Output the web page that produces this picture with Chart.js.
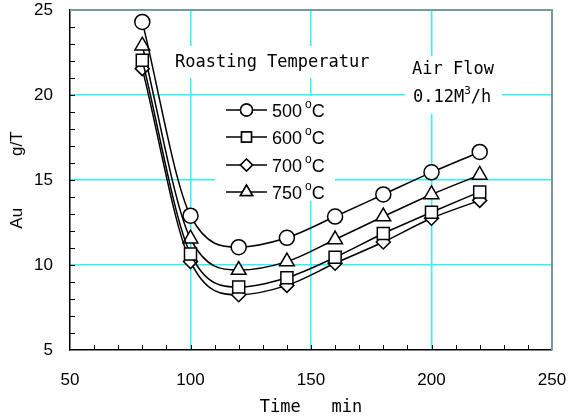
<!DOCTYPE html>
<html>
<head>
<meta charset="utf-8">
<script src="https://cdn.jsdelivr.net/npm/chart.js@4.4.0/dist/chart.umd.min.js"></script>
<style>
  html, body { margin: 0; padding: 0; background: #fff; }
</style>
</head>
<body>
<canvas id="auChart" width="569" height="420"></canvas>
<script>
// roasting time (min) and Au content (g/T) for each roasting temperature
const times = [80, 100, 120, 140, 160, 180, 200, 220];
const temps = ["500", "600", "700", "750"];
const au500 = [24.3, 12.9, 11.05, 11.6, 12.85, 14.15, 15.45, 16.65];
const au600 = [22.05, 10.65, 8.7, 9.25, 10.45, 11.85, 13.1, 14.3];
const au700 = [21.55, 10.2, 8.25, 8.8, 10.1, 11.35, 12.75, 13.8];
const au750 = [22.9, 11.55, 9.7, 10.2, 11.5, 12.85, 14.15, 15.3];
const xTicks = [50, 100, 150, 200, 250];
const yTicks = [5, 10, 15, 20, 25];

const series = [au500, au600, au700, au750];
const markers = [
  { style: "circle", r: 7.5, legendR: 6 },
  { style: "rect", r: 8.5, legendR: 7 },
  { style: "rectRot", r: 7, legendR: 6 },
  { style: "triangle", r: 8.5, legendR: 7 }
];
const CYAN = "#30f2f2";
const FRAME = "#7a9a9a";

const datasets = temps.map((t, i) => ({
  label: t + " °C",
  data: times.map((tm, j) => ({ x: tm, y: series[i][j] })),
  borderColor: "#000",
  borderWidth: 1.5,
  cubicInterpolationMode: "monotone",
  pointStyle: markers[i].style,
  pointRadius: markers[i].r,
  pointBackgroundColor: "#fff",
  pointBorderColor: "#000",
  pointBorderWidth: 1.5
}));

function gridColor(list) {
  return c => (c.tick && c.tick.value > list[0] && c.tick.value < list[list.length - 1]) ? CYAN : "rgba(0,0,0,0)";
}

// frame, inward minor ticks, text boxes and the legend drawn inside the plot
const decorations = {
  id: "decorations",
  beforeDatasetsDraw(chart) {
    const { ctx, chartArea: a, scales: { x, y } } = chart;
    ctx.save();

    // top and right frame
    ctx.strokeStyle = FRAME;
    ctx.lineWidth = 2;
    ctx.beginPath();
    ctx.moveTo(a.left, a.top);
    ctx.lineTo(a.right, a.top);
    ctx.lineTo(a.right, a.bottom);
    ctx.stroke();

    // ticks pointing into the plot
    ctx.strokeStyle = "#000";
    ctx.lineWidth = 1;
    ctx.beginPath();
    for (let v = xTicks[0] + 10; v < xTicks[xTicks.length - 1]; v += 10) {
      const px = Math.round(x.getPixelForValue(v)) + 0.5;
      ctx.moveTo(px, a.bottom);
      ctx.lineTo(px, a.bottom - 5);
    }
    for (let v = yTicks[0] + 1; v < yTicks[yTicks.length - 1]; v += 1) {
      const py = Math.round(y.getPixelForValue(v)) + 0.5;
      ctx.moveTo(a.left, py);
      ctx.lineTo(a.left + 5, py);
    }
    ctx.stroke();

    // white boxes behind the texts
    ctx.fillStyle = "#fff";
    ctx.fillRect(a.left + 100, a.top + 36, 205, 32);
    ctx.fillRect(a.left + 145, a.top + 86, 120, 105);
    ctx.fillRect(a.left + 335, a.top + 46, 97, 58);

    ctx.fillStyle = "#000";
    ctx.textBaseline = "middle";
    ctx.font = "17px 'DejaVu Sans Mono'";
    ctx.fillText("Roasting Temperatur", a.left + 105, a.top + 53);
    ctx.fillText("Air Flow", a.left + 342, a.top + 60);
    let tx = a.left + 343;
    const ty = a.top + 88;
    ctx.fillText("0.12M", tx, ty);
    tx += ctx.measureText("0.12M").width;
    ctx.font = "11px 'DejaVu Sans Mono'";
    ctx.fillText("3", tx, ty - 7);
    tx += ctx.measureText("3").width;
    ctx.font = "17px 'DejaVu Sans Mono'";
    ctx.fillText("/h", tx, ty);

    // legend rows
    const rowY = [100, 127, 155, 182];
    chart.data.datasets.forEach((ds, i) => {
      const ly = a.top + rowY[i];
      const lx = a.left + 156;
      ctx.strokeStyle = "#000";
      ctx.lineWidth = 1.5;
      ctx.beginPath();
      ctx.moveTo(lx, ly);
      ctx.lineTo(lx + 41, ly);
      ctx.stroke();
      ctx.fillStyle = "#fff";
      Chart.helpers.drawPoint(ctx, {
        pointStyle: ds.pointStyle, radius: markers[i].legendR, rotation: 0, borderWidth: 1.5
      }, lx + 20.5, ly);
      ctx.fill();
      ctx.stroke();

      ctx.fillStyle = "#000";
      ctx.textBaseline = "alphabetic";
      let sx = lx + 46;
      ctx.font = "18px 'Liberation Sans'";
      ctx.fillText(temps[i], sx, ly + 7);
      sx += ctx.measureText(temps[i]).width + 3;
      ctx.font = "12px 'Liberation Sans'";
      ctx.fillText("o", sx, ly - 2);
      sx += ctx.measureText("o").width;
      ctx.font = "18px 'Liberation Sans'";
      ctx.fillText("C", sx, ly + 7);
    });
    ctx.restore();
  }
};

new Chart(document.getElementById("auChart"), {
  type: "line",
  data: { datasets: datasets },
  plugins: [decorations],
  options: {
    responsive: false,
    animation: false,
    devicePixelRatio: 1,
    layout: { padding: 0 },
    plugins: { legend: { display: false }, tooltip: { enabled: false } },
    scales: {
      x: {
        type: "linear",
        min: xTicks[0],
        max: xTicks[xTicks.length - 1],
        afterBuildTicks: s => { s.ticks = xTicks.map(v => ({ value: v })); },
        afterFit: s => { s.height = 70; s.paddingRight = 17; s.paddingLeft = 0; },
        grid: { color: gridColor(xTicks), drawTicks: false, lineWidth: 1.5 },
        border: { display: true, color: "#000", width: 1.5 },
        ticks: { color: "#000", padding: 20, maxRotation: 0, font: { family: "Liberation Sans", size: 17 } },
        title: {
          display: true, text: "Time   min", color: "#000",
          padding: { top: 0, bottom: 2 },
          font: { family: "DejaVu Sans Mono", size: 17 }
        }
      },
      y: {
        type: "linear",
        min: yTicks[0],
        max: yTicks[yTicks.length - 1],
        afterBuildTicks: s => { s.ticks = yTicks.map(v => ({ value: v })); },
        afterFit: s => { s.width = 70; s.paddingTop = 9; s.paddingBottom = 0; },
        grid: { color: gridColor(yTicks), drawTicks: false, lineWidth: 1.5 },
        border: { display: true, color: "#000", width: 1.5 },
        ticks: { color: "#000", padding: 17, font: { family: "Liberation Sans", size: 17 } },
        title: {
          display: true, text: "Au           g/T", color: "#000",
          padding: { top: 7, bottom: 0 },
          font: { family: "Liberation Sans", size: 17 }
        }
      }
    }
  }
});
</script>
</body>
</html>
